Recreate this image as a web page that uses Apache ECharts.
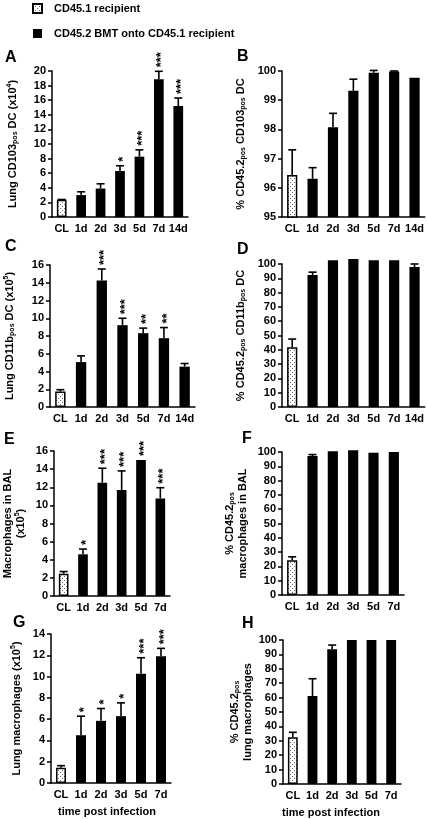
<!DOCTYPE html>
<html><head><meta charset="utf-8">
<script src="https://cdn.jsdelivr.net/npm/echarts@6/dist/echarts.min.js"></script>
<style>html,body{margin:0;padding:0;background:#fff}#c{width:427px;height:819px}</style>
</head><body><div id="c"></div>
<script>
// ---------- DATA ----------
const cats7 = ['CL','1d','2d','3d','5d','7d','14d'];
const cats6 = ['CL','1d','2d','3d','5d','7d'];
const seriesNames = ['CD45.1 recipient', 'CD45.2 BMT onto CD45.1 recipient'];
const panelLetters = ['A','B','C','D','E','F','G','H'];
const xTitle = 'time post infection';

const aMean = [2.35, 3.0, 3.9, 6.3, 8.27, 18.86, 15.2];
const aSd   = [0.05, 0.45, 0.65, 0.72, 0.93, 1.1, 1.1];
const aStars = ['', '', '', '*', '***', '***', '***'];

const bMean = [96.44, 96.31, 98.07, 99.32, 99.94, 99.98, 99.77];
const bSd   = [0.86, 0.38, 0.48, 0.4, 0.08, 0.02, 0];
const bStars = ['', '', '', '', '', '', ''];

const cMean = [1.75, 5.06, 14.25, 9.22, 8.32, 7.75, 4.55];
const cSd   = [0.2, 0.7, 1.3, 0.78, 0.57, 1.2, 0.35];
const cStars = ['', '', '***', '***', '**', '**', ''];

const dMean = [41.7, 92.3, 102.6, 103.5, 102.6, 102.6, 97.9];
const dSd   = [5.8, 2.0, 0, 0, 0, 0, 2.1];
const dStars = ['', '', '', '', '', '', ''];

const eMean = [2.45, 4.6, 12.5, 11.7, 15.0, 10.77];
const eSd   = [0.25, 0.58, 1.6, 2.1, 0, 1.18];
const eStars = ['', '*', '***', '***', '***', '***'];

const fMean = [24.3, 97.2, 100.5, 101.2, 99.5, 100];
const fSd   = [2.4, 1.0, 0, 0, 0, 0];
const fStars = ['', '', '', '', '', ''];

const gMean = [1.44, 4.49, 5.84, 6.28, 10.26, 11.9];
const gSd   = [0.19, 1.79, 1.16, 1.25, 1.51, 0.75];
const gStars = ['', '*', '*', '*', '***', '***'];

const hMean = [32.4, 61.1, 93.5, 100, 100, 100];
const hSd   = [3.5, 12, 3, 0, 0, 0];
const hStars = ['', '', '', '', '', ''];

// y-axis ranges [min, max, interval]
const yRanges = [[0,20,2],[95,100,1],[0,16,2],[0,100,10],[0,16,2],[0,100,10],[0,14,2],[0,100,10]];
const yNames = [
  'Lung CD103{s|pos} DC (x10{e|4})',
  '% CD45.2{s|pos} CD103{s|pos} DC',
  'Lung CD11b{s|pos} DC (x10{e|5})',
  '% CD45.2{s|pos} CD11b{s|pos} DC',
  'Macrophages in BAL\n(x10{e|5})',
  '% CD45.2{s|pos}\nmacrophages in BAL',
  'Lung macrophages (x10{e|5})',
  '% CD45.2{s|pos}\nlung macrophages'
];

const panels = [
  {cats: cats7, mean: aMean, sd: aSd, stars: aStars},
  {cats: cats7, mean: bMean, sd: bSd, stars: bStars},
  {cats: cats7, mean: cMean, sd: cSd, stars: cStars},
  {cats: cats7, mean: dMean, sd: dSd, stars: dStars},
  {cats: cats6, mean: eMean, sd: eSd, stars: eStars},
  {cats: cats6, mean: fMean, sd: fSd, stars: fStars},
  {cats: cats6, mean: gMean, sd: gSd, stars: gStars},
  {cats: cats6, mean: hMean, sd: hSd, stars: hStars}
];

// ---------- LAYOUT ----------
const FONT = '"Liberation Sans", Arial, sans-serif';
const grids = [
  {left:52, top:71, width:136, height:146},
  {left:282, top:71, width:143, height:146},
  {left:50, top:265, width:145, height:142},
  {left:282, top:264, width:143, height:143},
  {left:51, top:451, width:119, height:145},
  {left:282, top:452, width:122, height:143},
  {left:51, top:634, width:120, height:149},
  {left:283, top:640, width:118, height:144}
];
const nameGaps = [33, 35, 34, 35, 27, 33, 28, 29];
const letterPos = [[5,50],[237,49],[5,239],[237,242],[4,432],[242,431],[13,615],[242,616]];
const clipBars = [true, true, true, false, true, false, true, true];

function makeDots() {
  const c = document.createElement('canvas');
  c.width = 4; c.height = 4;
  const g = c.getContext('2d');
  g.fillStyle = '#fff'; g.fillRect(0,0,4,4);
  g.fillStyle = '#6a6a6a';
  g.fillRect(0,0,1,1); g.fillRect(2,2,1,1);
  return c;
}
const dotPattern = {image: makeDots(), repeat: 'repeat'};

const axisLineStyle = {color:'#000', width:1.5};
const labelStyle = {color:'#000', fontWeight:'bold', fontSize:11, fontFamily:FONT};

const xAxes = [], yAxes = [], series = [];
panels.forEach((p, gi) => {
  const isBottom = gi >= 6;
  xAxes.push({
    type:'category', gridIndex: gi, data: p.cats,
    axisLine:{lineStyle: axisLineStyle},
    axisTick:{length:4, lineStyle: axisLineStyle},
    axisLabel: Object.assign({margin:6, interval:0}, labelStyle),
    name: isBottom ? xTitle : '',
    nameLocation:'middle', nameGap: 23,
    nameTextStyle: Object.assign({padding: gi === 6 ? [0,8,0,0] : [0,22,0,0]}, labelStyle)
  });
  const r = yRanges[gi];
  yAxes.push({
    type:'value', gridIndex: gi, min:r[0], max:r[1], interval:r[2],
    splitLine:{show:false},
    axisLine:{show:true, lineStyle: axisLineStyle},
    axisTick:{show:true, length:4, lineStyle: axisLineStyle},
    axisLabel: Object.assign({margin:6}, labelStyle),
    name: yNames[gi], nameLocation:'middle', nameRotate:90, nameGap: nameGaps[gi],
    nameTextStyle: Object.assign({lineHeight:13, rich:{
      s:{fontSize:7, fontWeight:'bold', fontFamily:FONT, color:'#000', verticalAlign:'bottom'},
      e:{fontSize:7, fontWeight:'bold', fontFamily:FONT, color:'#000', verticalAlign:'top'}
    }}, labelStyle)
  });
  series.push({
    type:'bar', name: seriesNames[0], xAxisIndex: gi, yAxisIndex: gi,
    data: p.mean.map((v,i) => i === 0 ? v : '-'),
    barWidth:'50%', barGap:'-100%', clip: clipBars[gi],
    itemStyle:{color: dotPattern, borderColor:'#000', borderWidth:1.5},
    emphasis:{disabled:true}
  });
  series.push({
    type:'bar', name: seriesNames[1], xAxisIndex: gi, yAxisIndex: gi,
    data: p.mean.map((v,i) => i === 0 ? '-' : v),
    barWidth:'50%', barGap:'-100%', clip: clipBars[gi],
    itemStyle:{color:'#000'},
    emphasis:{disabled:true}
  });
  series.push({
    type:'custom', xAxisIndex: gi, yAxisIndex: gi, z: 5, silent:true,
    data: p.mean.map((m,i) => [i, m, p.sd[i]]),
    renderItem: function(params, api) {
      const i = api.value(0), m = api.value(1), s = api.value(2);
      const base = api.coord([i, m]);
      const top = api.coord([i, m + s]);
      const half = 4;
      const children = [];
      if (s > 0) {
        children.push({type:'line', shape:{x1:base[0], y1:base[1], x2:top[0], y2:top[1]}, style:{stroke:'#000', lineWidth:1.6}});
        children.push({type:'line', shape:{x1:top[0]-half, y1:top[1], x2:top[0]+half, y2:top[1]}, style:{stroke:'#000', lineWidth:1.6}});
      }
      const st = p.stars[params.dataIndex];
      if (st) {
        children.push({type:'text', x: top[0] + 3, y: top[1] - 4, rotation: Math.PI/2,
          style:{text: st, fill:'#000', font:'bold 13px ' + FONT, align:'left', verticalAlign:'middle'}});
      }
      return {type:'group', children};
    }
  });
});

const chart = echarts.init(document.getElementById('c'), null, {renderer:'canvas'});
chart.setOption({
  animation:false,
  backgroundColor:'#fff',
  legend:{
    orient:'vertical', left:32, top:3, padding:0, itemWidth:9, itemHeight:9, itemGap:14, icon:'rect',
    selectedMode:false,
    textStyle:{color:'#000', fontWeight:'bold', fontSize:11, fontFamily:FONT, padding:[0,0,0,7]},
    data: seriesNames
  },
  grid: grids,
  xAxis: xAxes,
  yAxis: yAxes,
  series: series,
  graphic: panelLetters.map((L, i) => ({
    type:'text', left: letterPos[i][0], top: letterPos[i][1],
    style:{text: L, font:'bold 16px ' + FONT, fill:'#000'}
  }))
});
</script>
</body></html>
